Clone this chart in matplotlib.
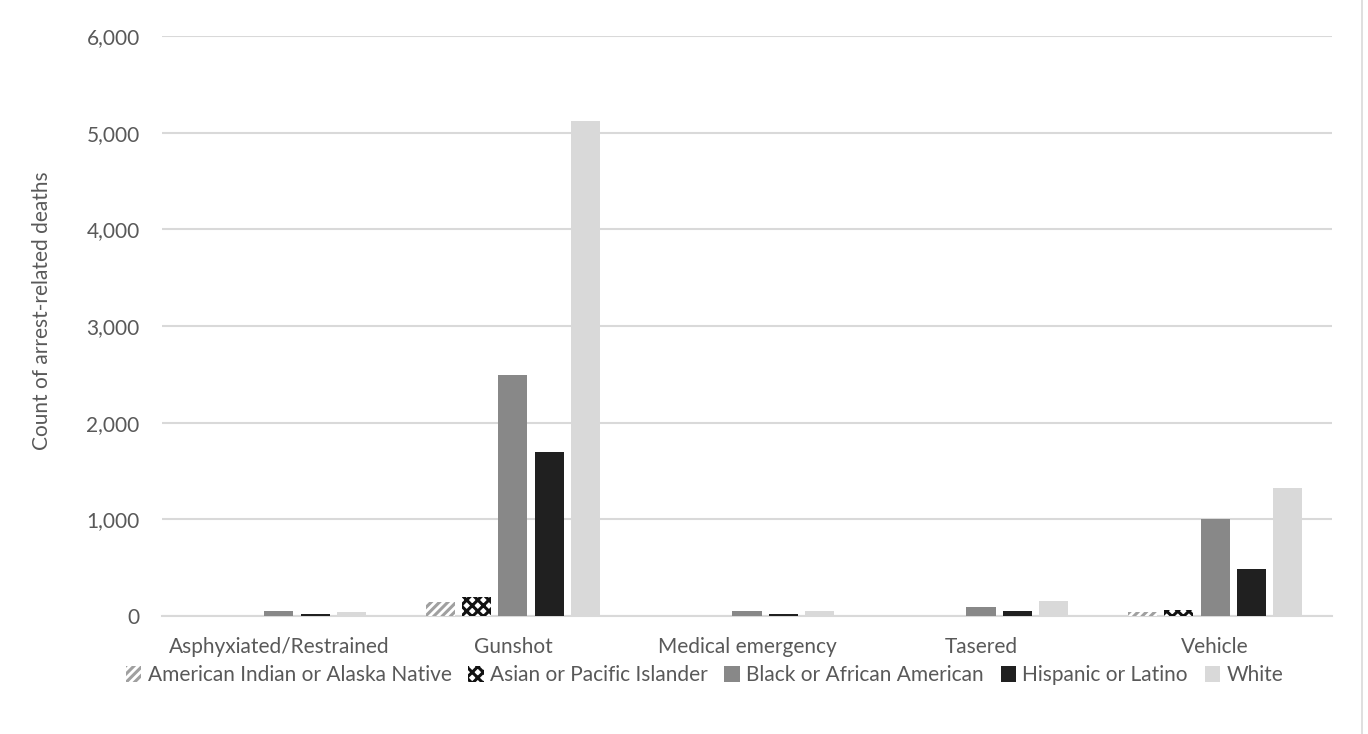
import matplotlib
matplotlib.use("Agg")
import matplotlib.pyplot as plt
from matplotlib.patches import Rectangle
import numpy as np

categories = ["Asphyxiated/Restrained", "Gunshot", "Medical emergency", "Tasered", "Vehicle"]
series_names = ["American Indian or Alaska Native", "Asian or Pacific Islander",
                "Black or African American", "Hispanic or Latino", "White"]
aian = [2, 140, 2, 2, 40]
api = [3, 195, 2, 3, 60]
black = [55, 2490, 55, 95, 1000]
hispanic = [25, 1700, 25, 55, 486]
white = [45, 5120, 55, 150, 1324]
yticks = [0, 1000, 2000, 3000, 4000, 5000, 6000]

series = [aian, api, black, hispanic, white]
styles = [
    dict(facecolor="white", edgecolor="#a0a0a0", hatch="////"),
    dict(facecolor="white", edgecolor="#111111", hatch="xxx"),
    dict(facecolor="#888888", edgecolor="none"),
    dict(facecolor="#202020", edgecolor="none"),
    dict(facecolor="#d9d9d9", edgecolor="none"),
]

plt.rcParams["font.family"] = ["Lato", "DejaVu Sans"]
plt.rcParams["hatch.linewidth"] = 2.2
text_color = "#595959"

fig = plt.figure(figsize=(13.68, 7.34), dpi=100)
ax = fig.add_axes([0.1184, 0.1608, 0.9737 - 0.1184, 0.951 - 0.1608])

x = np.arange(len(categories))
width = 0.124
step = 0.154
handles = []
for i, (vals, st) in enumerate(zip(series, styles)):
    pos = x + (i - 2) * step
    b = ax.bar(pos, vals, width=width, linewidth=0, label=series_names[i], zorder=3, **st)
    handles.append(b)

ax.set_xlim(-0.5, len(categories) - 0.5)
ax.set_ylim(0, 6000)
ax.set_yticks(yticks)
ax.set_yticklabels([f"{v:,}" for v in yticks])
ax.set_xticks(x)
ax.set_xticklabels(categories)
ax.tick_params(axis="both", length=0, labelsize=15, colors=text_color)
ax.tick_params(axis="x", pad=15)
ax.tick_params(axis="y", pad=16)
ax.grid(axis="y", color="#d9d9d9", linewidth=1.5, zorder=0)
for s in ["top", "right", "left"]:
    ax.spines[s].set_visible(False)
ax.spines["bottom"].set_color("#d9d9d9")
ax.spines["bottom"].set_linewidth(1.5)
ax.set_ylabel("Count of arrest-related deaths", fontsize=15, color=text_color)
ax.yaxis.set_label_coords(-0.094, 0.526)

leg = fig.legend(handles=handles, labels=series_names, loc="center", bbox_to_anchor=(0.515, 0.080),
                 ncol=5, frameon=False, fontsize=15, handlelength=0.75, handleheight=0.75,
                 handletextpad=0.3, columnspacing=0.8, labelcolor=text_color)

# chart area border
fig.patches.append(Rectangle((-0.01, -0.05), 1.0055, 1.2, transform=fig.transFigure,
                             fill=False, edgecolor="#d9d9d9", linewidth=1.2))

fig.savefig("out.png", dpi=100)
